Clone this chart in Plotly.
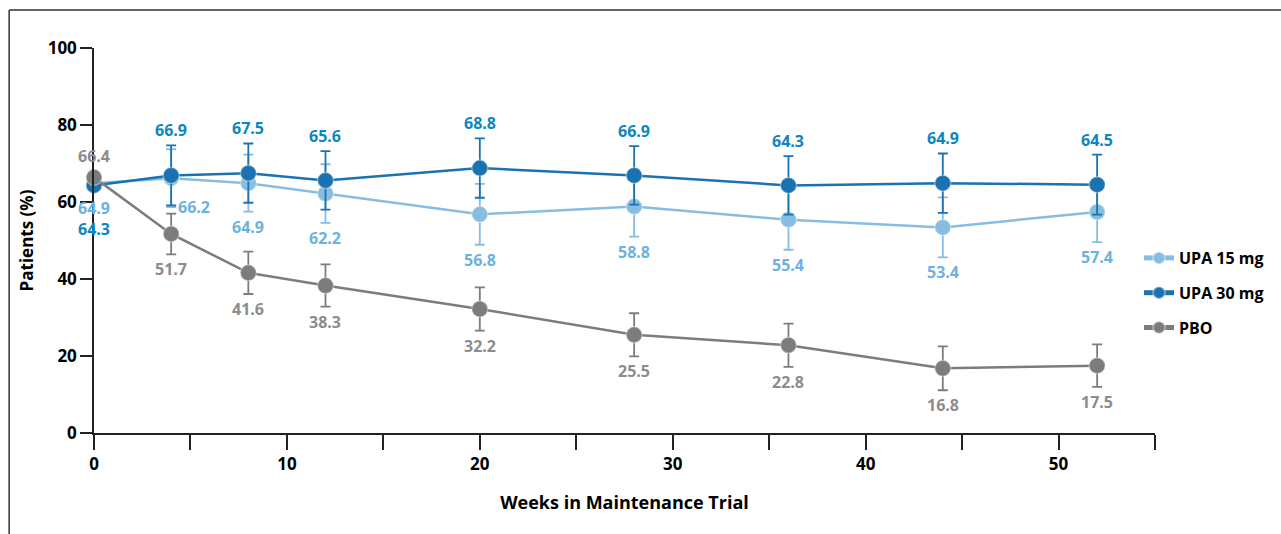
import plotly.graph_objects as go

# Weeks of assessment
weeks = [0, 4, 8, 12, 20, 28, 36, 44, 52]

# Percent of patients per arm
upa15 = [64.9, 66.2, 64.9, 62.2, 56.8, 58.8, 55.4, 53.4, 57.4]
upa30 = [64.3, 66.9, 67.5, 65.6, 68.8, 66.9, 64.3, 64.9, 64.5]
pbo = [66.4, 51.7, 41.6, 38.3, 32.2, 25.5, 22.8, 16.8, 17.5]

# 95% CI half-widths
upa15_err = [0, 7.5, 7.4, 7.6, 7.9, 7.8, 7.8, 7.8, 7.8]
upa30_err = [0, 7.8, 7.7, 7.6, 7.7, 7.6, 7.6, 7.7, 7.8]
pbo_err = [0, 5.3, 5.5, 5.5, 5.6, 5.6, 5.6, 5.7, 5.5]

x_tick_vals = [0, 5, 10, 15, 20, 25, 30, 35, 40, 45, 50, 55]
x_tick_text = ["0", "", "10", "", "20", "", "30", "", "40", "", "50", ""]
y_tick_vals = [0, 20, 40, 60, 80, 100]

C15_LINE, C15_TEXT = "#86bde0", "#6cb2dd"
C30_LINE, C30_TEXT = "#1a72b0", "#0b86c0"
CPBO_LINE, CPBO_TEXT = "#7c7c7c", "#8c8c8c"

FONT = "Open Sans"

fig = go.Figure()


def add_arm(name, ys, errs, line_c, group):
    fig.add_trace(go.Scatter(
        x=weeks, y=ys, name=name, mode="lines+markers",
        legendgroup=group,
        line=dict(color=line_c, width=2.5),
        marker=dict(size=16, color=line_c,
                    line=dict(color="rgba(255,255,255,0.35)", width=1.5)),
        error_y=dict(type="data", array=errs, visible=True,
                     color=line_c, thickness=1.8, width=5),
        cliponaxis=False,
    ))


add_arm("UPA 15 mg", upa15, upa15_err, C15_LINE, "a")
add_arm("UPA 30 mg", upa30, upa30_err, C30_LINE, "b")
add_arm("PBO", pbo, pbo_err, CPBO_LINE, "c")

annotations = []
lab_font = dict(family=FONT, size=16, weight="bold")

# Baseline: both UPA values stacked under the first point
annotations.append(dict(
    x=weeks[0], y=upa15[0], showarrow=False, yanchor="top", yshift=-12,
    text=(f"<span style='color:{C15_TEXT}'>{upa15[0]}</span><br>"
          f"<span style='color:{C30_TEXT}'>{upa30[0]}</span>"),
    font=lab_font))

# UPA 30 mg: above the upper bar
for w, v, e in list(zip(weeks, upa30, upa30_err))[1:]:
    annotations.append(dict(x=w, y=v + e, text=f"{v}", showarrow=False,
                            yanchor="bottom", yshift=2,
                            font=dict(lab_font, color=C30_TEXT)))

# UPA 15 mg: below the lower bar; week 4 to the right
for i, (w, v, e) in enumerate(zip(weeks, upa15, upa15_err)):
    if i == 0:
        continue
    if i == 1:
        annotations.append(dict(x=w, y=v - e, text=f"{v}", showarrow=False,
                                xanchor="left", yanchor="middle", xshift=5,
                                font=dict(lab_font, color=C15_TEXT)))
    else:
        annotations.append(dict(x=w, y=v - e, text=f"{v}", showarrow=False,
                                yanchor="top", yshift=-2,
                                font=dict(lab_font, color=C15_TEXT)))

# Placebo: below the lower bar, week 0 above
for i, (w, v, e) in enumerate(zip(weeks, pbo, pbo_err)):
    if i == 0:
        annotations.append(dict(x=w, y=v, text=f"{v}", showarrow=False,
                                yanchor="middle", yshift=21,
                                font=dict(lab_font, color=CPBO_TEXT)))
    else:
        annotations.append(dict(x=w, y=v - e, text=f"{v}", showarrow=False,
                                yanchor="top", yshift=-2,
                                font=dict(lab_font, color=CPBO_TEXT)))

# Outer frame (left and top edges)
L, R, T, B = 94, 124, 48, 101
W, H = 1281, 534
pw, ph = W - L - R, H - T - B


def px_x(p):
    return (p - L) / pw


def px_y(p):
    return (H - B - p) / ph


shapes = [
    dict(type="line", xref="paper", yref="paper",
         x0=px_x(9), x1=px_x(W + 5), y0=px_y(10), y1=px_y(10),
         line=dict(color="#333333", width=1.5)),
    dict(type="line", xref="paper", yref="paper",
         x0=px_x(9), x1=px_x(9), y0=px_y(10), y1=px_y(H + 5),
         line=dict(color="#333333", width=1.5)),
]

fig.update_layout(
    width=W, height=H,
    margin=dict(l=L, r=R, t=T, b=B),
    paper_bgcolor="white", plot_bgcolor="white",
    font=dict(family=FONT, color="black"),
    showlegend=True,
    legend=dict(x=px_x(1141), y=px_y(241), xanchor="left", yanchor="top",
                font=dict(family=FONT, size=16, weight="bold", color="black"),
                itemsizing="constant",
                tracegroupgap=11, bgcolor="rgba(0,0,0,0)"),
    xaxis=dict(range=[0, 55], tickvals=x_tick_vals, ticktext=x_tick_text,
               ticks="outside", ticklen=15, tickwidth=1.5, tickcolor="#222",
               showline=True, linecolor="#222", linewidth=1.5,
               showgrid=False, zeroline=False,
               tickfont=dict(family=FONT, size=17, weight="bold"),
               title=dict(text="Weeks in Maintenance Trial", standoff=22,
                          font=dict(family=FONT, size=18, weight="bold"))),
    yaxis=dict(range=[0, 100], tickvals=y_tick_vals,
               ticks="outside", ticklen=12, tickwidth=1.5, tickcolor="#222",
               showline=True, linecolor="#222", linewidth=1.5,
               showgrid=False, zeroline=False,
               tickfont=dict(family=FONT, size=17, weight="bold"),
               title=dict(text="Patients (%)", standoff=10,
                          font=dict(family=FONT, size=17, weight="bold"))),
    annotations=annotations,
    shapes=shapes,
)

fig.write_html("out.html")
